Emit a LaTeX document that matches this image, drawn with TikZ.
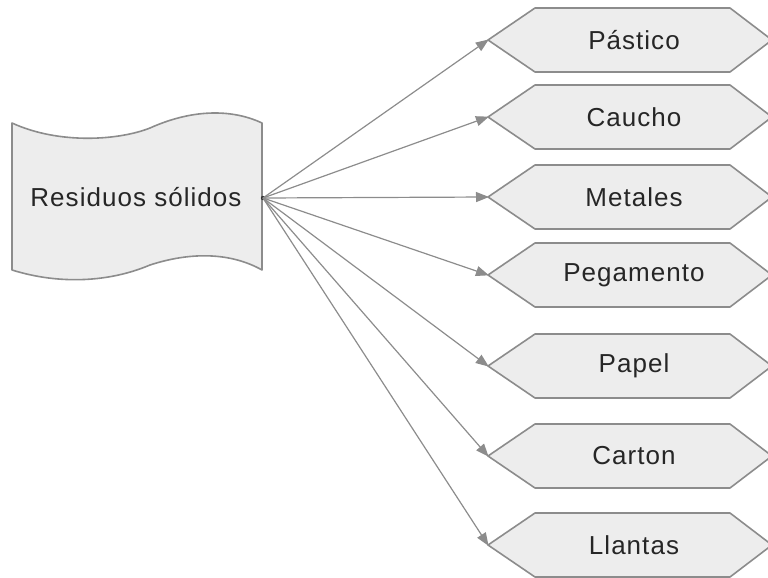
\documentclass[tikz,border=0pt]{standalone}
\usepackage{fontspec}
\setmainfont{Liberation Sans}
\newfontfamily\lblfont[LetterSpace=4]{Liberation Sans}
\usetikzlibrary{arrows.meta}
\definecolor{edge}{HTML}{8C8C8C}
\definecolor{boxfill}{HTML}{EDEDED}
\tikzset{
  shapeline/.style={draw=edge, line width=1.6pt, fill=boxfill, line join=round},
  lbl/.style={text=black!85, font=\lblfont\fontsize{26}{30}\selectfont, inner sep=0pt},
  conn/.style={draw=edge, line width=1.2pt, -{Triangle[length=13pt,width=10pt,fill=edge]}, shorten >=-1pt}
}
\begin{document}
\begin{tikzpicture}[x=1pt,y=-1pt]
\useasboundingbox (0,0) rectangle (768,578);
% source wave-shaped document
\draw[shapeline] (12,123) .. controls (60,145) and (120,140) .. (150,128)
  .. controls (190,110) and (230,108) .. (262,123) -- (262,270)
  .. controls (230,252) and (190,252) .. (150,265)
  .. controls (110,282) and (60,285) .. (12,270) -- cycle;
\node[lbl] (src) at (136,197) {Residuos sólidos};
\coordinate (o) at (263,198);
\fill[black!80] (o) circle (2.2pt);
% targets
\foreach \n/\cy/\t in {1/40/Pástico,2/117/Caucho,3/197/Metales,4/275/Pegamento,5/366/Papel,6/456/Carton,7/545/Llantas}{
  \coordinate (h\n) at (488,\cy);
  \draw[shapeline] (h\n) -- (535,\cy-32) -- (730,\cy-32) -- (772,\cy) -- (730,\cy+32) -- (535,\cy+32) -- cycle;
  \node[lbl] (t\n) at (634,\cy) {\t};
  \draw[conn] (o) -- (h\n);
}
\end{tikzpicture}
\end{document}
